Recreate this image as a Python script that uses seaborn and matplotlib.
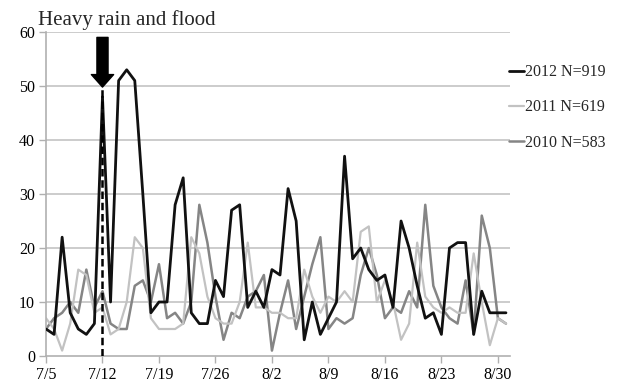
import pandas as pd
import matplotlib
matplotlib.use("Agg")
import matplotlib.pyplot as plt
import seaborn as sns

# days since 7/5
y2012 = [5, 4, 22, 8, 5, 4, 6, 48, 10, 51, 53, 51, 30, 8, 10, 10, 28, 33, 8, 6,
         6, 14, 11, 27, 28, 9, 12, 9, 16, 15, 31, 25, 3, 10, 4, 7, 10, 37, 18, 20,
         16, 14, 15, 9, 25, 20, 13, 7, 8, 4, 20, 21, 21, 4, 12, 8, 8, 8]
y2011 = [7, 5, 1, 6, 16, 15, 8, 9, 4, 5, 10, 22, 20, 7, 5, 5, 5, 6, 22, 19,
         11, 7, 6, 6, 10, 21, 9, 9, 8, 8, 7, 7, 16, 11, 8, 11, 10, 12, 10, 23,
         24, 10, 14, 10, 3, 6, 21, 11, 9, 8, 9, 8, 8, 19, 10, 2, 7, 6]
y2010 = [5, 7, 8, 10, 8, 16, 9, 12, 6, 5, 5, 13, 14, 10, 17, 7, 8, 6, 10, 28,
         21, 11, 3, 8, 7, 11, 12, 15, 1, 8, 14, 5, 11, 17, 22, 5, 7, 6, 7, 15,
         20, 15, 7, 9, 8, 12, 9, 28, 13, 9, 7, 6, 14, 4, 26, 20, 7, 6]
labels = ["2012 N=919", "2011 N=619", "2010 N=583"]
tick_labels = ["7/5", "7/12", "7/19", "7/26", "8/2", "8/9", "8/16", "8/23", "8/30"]
flood_day = 7

days = list(range(len(y2012)))
df = pd.DataFrame({"day": days, "2012": y2012, "2011": y2011, "2010": y2010})

sns.set_style("white")
plt.rcParams["font.family"] = ["Liberation Serif", "DejaVu Serif"]

fig = plt.figure(figsize=(6.21, 3.84), dpi=100)
ax = fig.add_axes([46 / 621, 1 - 356 / 384, (510 - 46) / 621, (356 - 32) / 384])

# grid
for v in [10, 20, 30, 40, 50, 60]:
    ax.axhline(v, color="#c4c4c4", lw=1.2, zorder=0)

sns.lineplot(data=df, x="day", y="2010", ax=ax, color="#858585", lw=1.8, label=labels[2], zorder=2)
sns.lineplot(data=df, x="day", y="2011", ax=ax, color="#c2c2c2", lw=1.6, label=labels[1], zorder=2)
sns.lineplot(data=df, x="day", y="2012", ax=ax, color="#111111", lw=2.0, label=labels[0], zorder=3)

# flood marker
ax.vlines(flood_day, 0, 50, colors="black", linestyles=(0, (3, 1.5)), lw=1.8, zorder=4)
ax.annotate("", xy=(flood_day, 49.8), xytext=(flood_day, 59),
            arrowprops=dict(width=8, headwidth=16, headlength=9, color="black", shrink=0),
            zorder=5)
fig.text(38 / 621, 1 - 20 / 384, "Heavy rain and flood", fontsize=15, ha="left", va="center")

ax.set_xlim(0, 57.5)
ax.set_ylim(0, 60)
ax.set_xticks(range(0, 57, 7))
ax.set_xticklabels(tick_labels)
ax.set_yticks(range(0, 61, 10))
ax.set_xlabel("")
ax.set_ylabel("")
ax.tick_params(axis="both", labelsize=11.5, colors="black", length=5, width=1, direction="out",
               color="#b0b0b0", bottom=True, left=True, pad=3)
for s in ["top", "right"]:
    ax.spines[s].set_visible(False)
for s in ["left", "bottom"]:
    ax.spines[s].set_color("#b0b0b0")
    ax.spines[s].set_linewidth(1.2)

handles, labs = ax.get_legend_handles_labels()
order = [2, 1, 0]
ax.legend([handles[i] for i in order], [labs[i] for i in order], loc="upper left",
          bbox_to_anchor=(0.985, 0.92), frameon=False, fontsize=11.5, handlelength=0.9,
          handletextpad=0.1, labelspacing=1.2, borderaxespad=0)

fig.savefig("out.png", dpi=100)
